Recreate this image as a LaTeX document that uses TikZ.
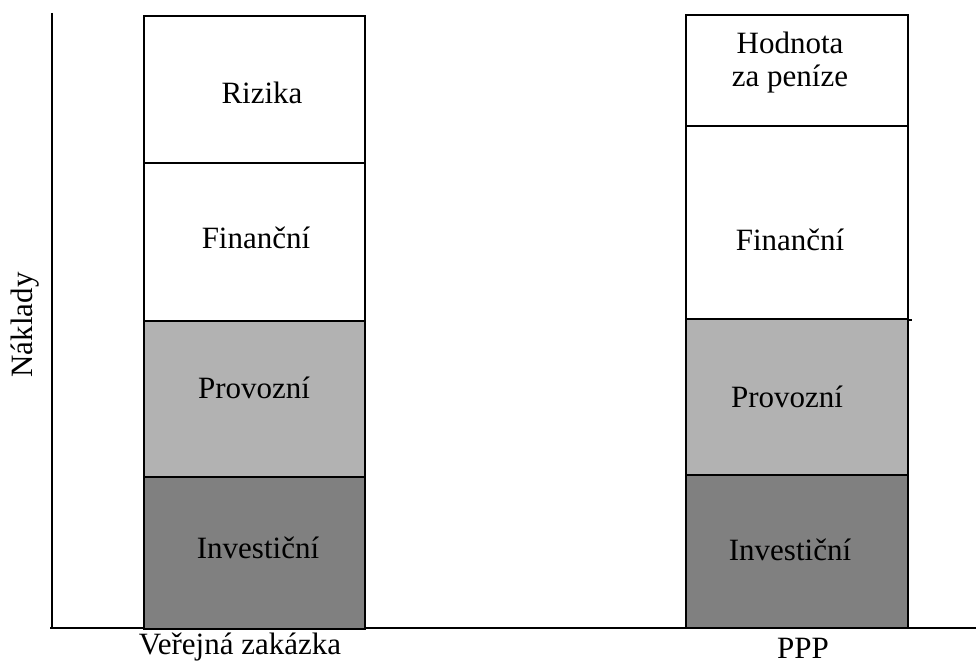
\documentclass[tikz,border=0pt]{standalone}
\usepackage{fontspec}
\setmainfont{Liberation Serif}
\definecolor{lightgr}{HTML}{B2B2B2}
\definecolor{darkgr}{HTML}{808080}
\tikzset{
  seg/.style={draw=black, line width=2.4pt, rectangle, inner sep=0pt, anchor=north west},
  lbl/.style={font=\fontsize{31}{33}\selectfont, align=center, inner sep=0pt},
  axis/.style={line width=2pt}
}
\begin{document}
\begin{tikzpicture}[x=1pt,y=-1pt]
\useasboundingbox (0,0) rectangle (979,663);
% axes
\coordinate (top) at (52,13);
\coordinate (orig) at (52,628);
\coordinate (xstart) at (50,628);
\coordinate (xend) at (976,628);
\draw[axis] (top) -- (orig);
\draw[axis] (xstart) -- (xend);
% left bar
\node[seg, fill=white, minimum width=221pt, minimum height=147pt] (lr) at (143,15) {};
\node[seg, fill=white, minimum width=221pt, minimum height=158pt] (lf) at (143,162) {};
\node[seg, fill=lightgr, minimum width=221pt, minimum height=156pt] (lp) at (143,320) {};
\node[seg, fill=darkgr, minimum width=221pt, minimum height=152pt] (li) at (143,476) {};
% right bar
\node[seg, fill=white, minimum width=222pt, minimum height=111pt] (rh) at (685,14) {};
\node[seg, fill=white, minimum width=222pt, minimum height=193pt] (rf) at (685,125) {};
\node[seg, fill=lightgr, minimum width=222pt, minimum height=156pt] (rp) at (685,318) {};
\node[seg, fill=darkgr, minimum width=222pt, minimum height=153pt] (ri) at (685,474) {};
\draw[line width=2pt] (rf.south east) -- ++(3,0);
% labels
\node[lbl] (t1) at (262,93) {Rizika};
\node[lbl] (t2) at (256,238) {Finanční};
\node[lbl] (t3) at (254,388) {Provozní};
\node[lbl] (t4) at (258,548) {Investiční};
\node[lbl] (t5) at (790,63) {Hodnota\\za peníze};
\node[lbl] (t6) at (790,240) {Finanční};
\node[lbl] (t7) at (787,397) {Provozní};
\node[lbl] (t8) at (790,550) {Investiční};
\node[lbl] (x1) at (240,647) {Veřejná zakázka};
\node[lbl] (x2) at (803,648) {PPP};
\node[lbl, rotate=90] (y1) at (25,325) {Náklady};
\end{tikzpicture}
\end{document}
